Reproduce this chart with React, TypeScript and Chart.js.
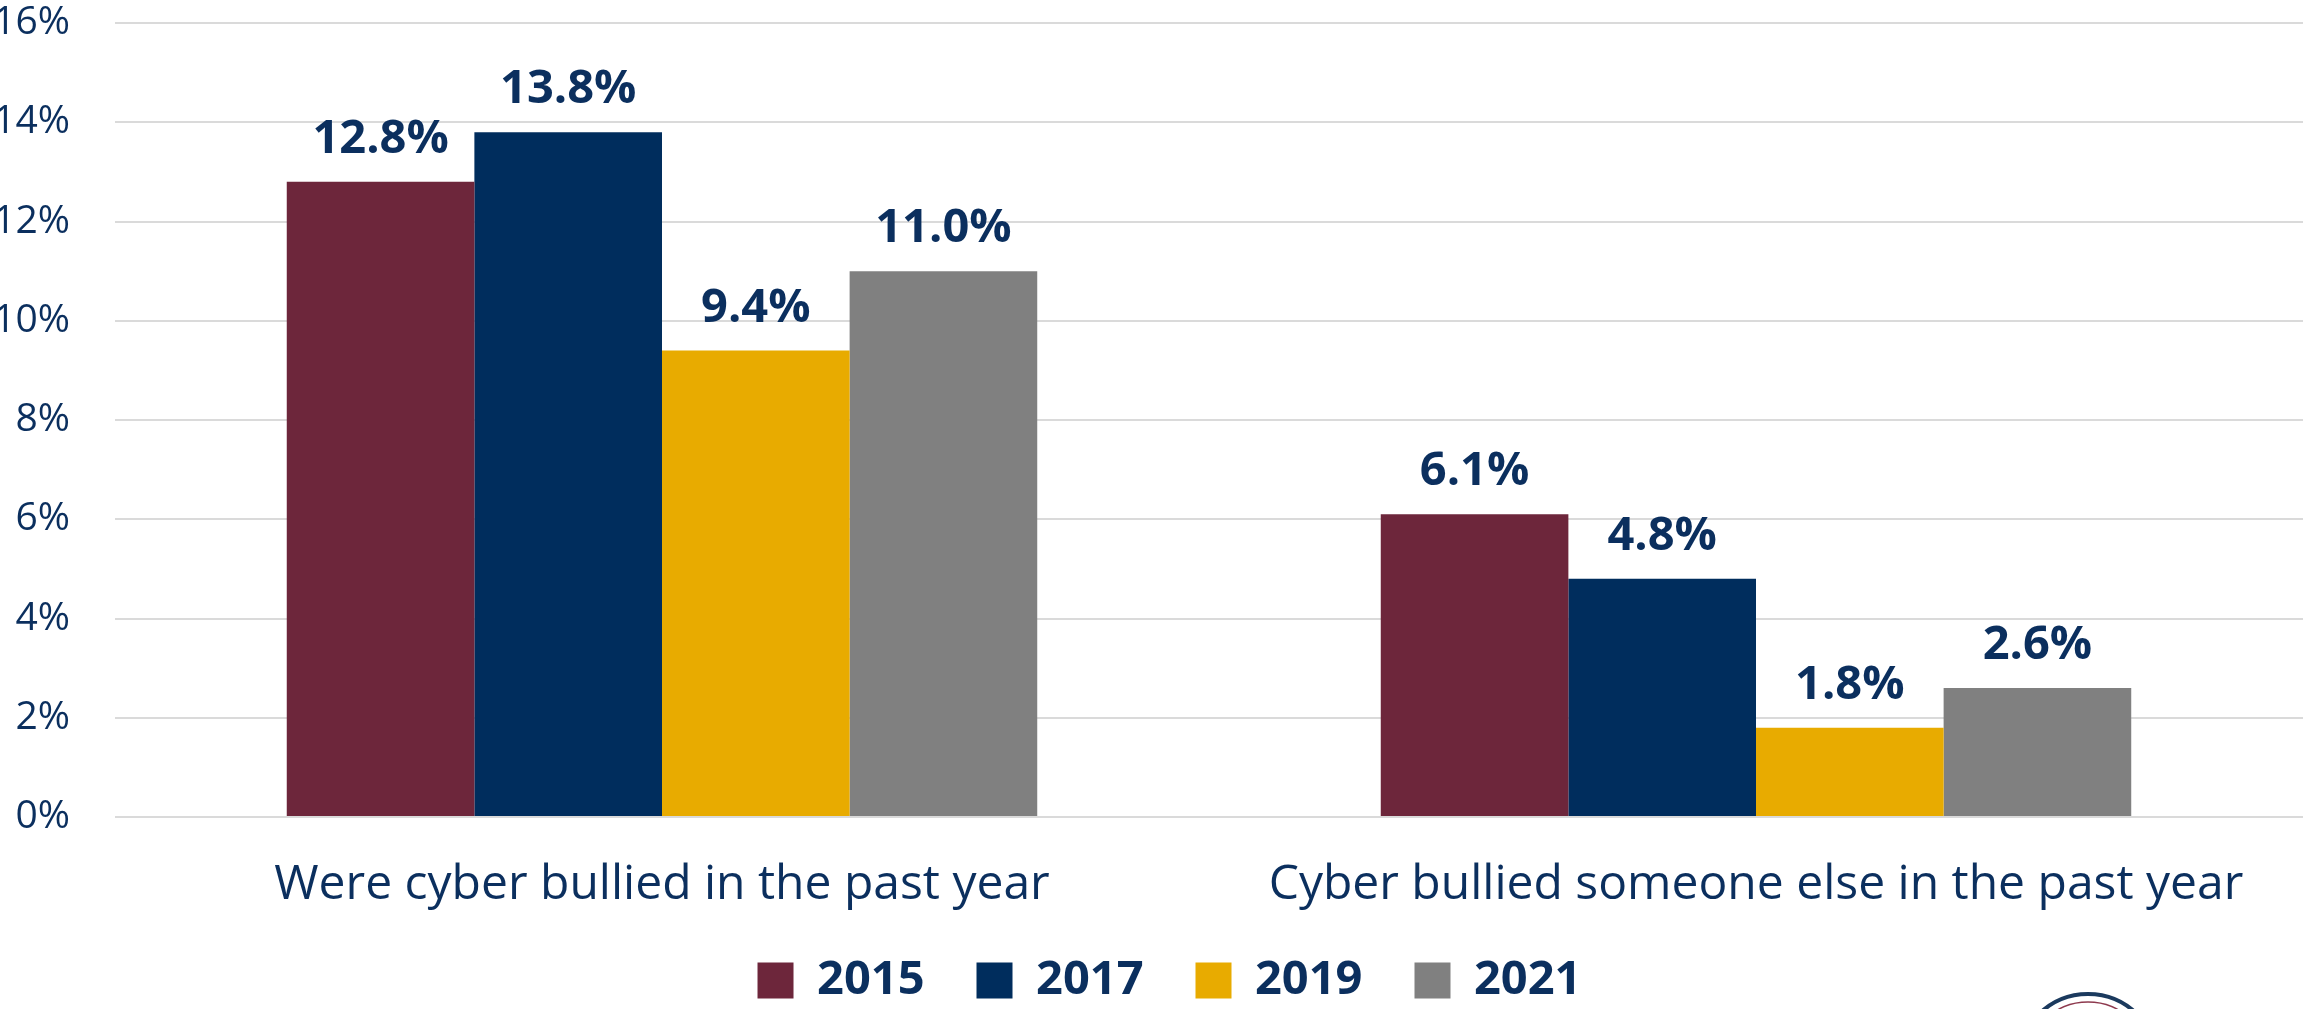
import React, { useEffect, useRef } from "react";
import { Chart, registerables } from "chart.js";

Chart.register(...registerables);

const categories = ["Were cyber bullied in the past year", "Cyber bullied someone else in the past year"];
const seriesNames = ["2015", "2017", "2019", "2021"];
const values2015 = [12.8, 6.1];
const values2017 = [13.8, 4.8];
const values2019 = [9.4, 1.8];
const values2021 = [11.0, 2.6];
const seriesColors = ["#6D263B", "#002D5D", "#E8AB00", "#808080"];
const yTicks = [0, 2, 4, 6, 8, 10, 12, 14, 16];

const NAVY = "#0B2F5E";
const FONT = "'Open Sans', 'Noto Sans', sans-serif";

const dataLabelPlugin = {
  id: "dataLabels",
  afterDatasetsDraw(chart: any) {
    const ctx = chart.ctx;
    ctx.save();
    ctx.font = `bold 47px ${FONT}`;
    ctx.fillStyle = NAVY;
    ctx.textAlign = "center";
    ctx.textBaseline = "alphabetic";
    chart.data.datasets.forEach((ds: any, i: number) => {
      const meta = chart.getDatasetMeta(i);
      meta.data.forEach((el: any, j: number) => {
        const v = ds.data[j] as number;
        ctx.fillText(v.toFixed(1) + "%", el.x, el.y - 29);
      });
    });
    ctx.restore();
  },
};

// nudge the legend block: 18px right, 22px up (it overlaps empty space only)
const legendShiftPlugin = {
  id: "legendShift",
  afterLayout(chart: any) {
    const lg = chart.legend;
    if (lg) {
      lg.left += 18;
      lg.right += 18;
      lg.top -= 22;
      lg.bottom -= 22;
    }
  },
};

const sealPlugin = {
  id: "seal",
  afterDraw(chart: any) {
    const ctx = chart.ctx;
    ctx.save();
    const cx = 2088, cy = 1064;
    ctx.beginPath();
    ctx.arc(cx, cy, 70, 0, Math.PI * 2);
    ctx.fillStyle = "#FFFFFF";
    ctx.fill();
    ctx.lineWidth = 4;
    ctx.strokeStyle = "#1B3A5E";
    ctx.stroke();
    ctx.beginPath();
    ctx.arc(cx, cy, 62, 0, Math.PI * 2);
    ctx.lineWidth = 1.5;
    ctx.strokeStyle = "#8E3A4E";
    ctx.stroke();
    ctx.restore();
  },
};

export default function App() {
  const canvasRef = useRef<HTMLCanvasElement | null>(null);

  useEffect(() => {
    const canvas = canvasRef.current;
    if (!canvas) return;
    const seriesValues = [values2015, values2017, values2019, values2021];
    const chart = new Chart(canvas, {
      type: "bar",
      data: {
        labels: categories,
        datasets: seriesNames.map((name, i) => ({
          label: name,
          data: seriesValues[i],
          backgroundColor: seriesColors[i],
          borderWidth: 0,
          categoryPercentage: 0.686,
          barPercentage: 1.0,
        })),
      },
      options: {
        responsive: false,
        animation: false,
        layout: { padding: { top: 23, left: 0, right: 0, bottom: 0 } },
        plugins: {
          tooltip: { enabled: false },
          legend: {
            display: true,
            position: "bottom",
            labels: {
              boxWidth: 36,
              boxHeight: 36,
              padding: 52,
              color: NAVY,
              font: { family: FONT, size: 47, weight: "bold" },
            },
          },
        },
        scales: {
          x: {
            grid: { display: false, drawTicks: false },
            border: { display: false },
            ticks: {
              color: NAVY,
              padding: 40,
              maxRotation: 0,
              autoSkip: false,
              font: { family: FONT, size: 48 },
            },
            afterFit(scale: any) {
              scale.height = 110;
            },
          },
          y: {
            min: 0,
            max: 16,
            afterBuildTicks(scale: any) {
              scale.ticks = yTicks.map((v) => ({ value: v }));
            },
            grid: { color: "#DADADA", lineWidth: 2, drawTicks: false },
            border: { display: false },
            ticks: {
              color: NAVY,
              padding: 45,
              font: { family: FONT, size: 39 },
              callback: (v: any) => v + "%",
            },
            afterFit(scale: any) {
              scale.width = 115;
              scale.paddingTop = 20;
              scale.paddingBottom = 20;
            },
          },
        },
      },
      plugins: [dataLabelPlugin, legendShiftPlugin, sealPlugin],
    });
    return () => chart.destroy();
  }, []);

  return (
    <div
      style={{
        position: "fixed",
        left: 0,
        top: 0,
        width: 2303,
        height: 1009,
        overflow: "hidden",
        background: "#FFFFFF",
      }}
    >
      <canvas ref={canvasRef} width={2303} height={1036} style={{ display: "block", width: 2303, height: 1036 }} />
    </div>
  );
}
